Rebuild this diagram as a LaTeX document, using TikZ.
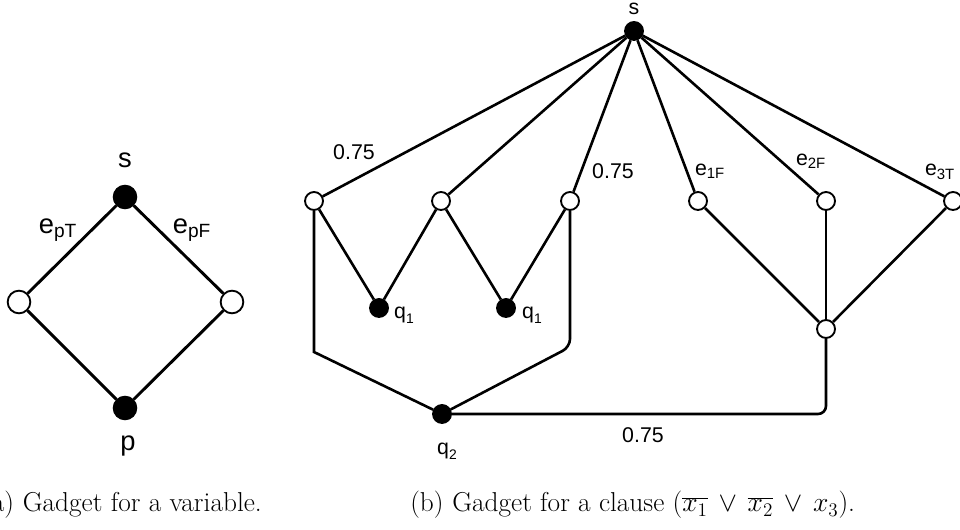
\documentclass[tikz,border=0pt]{standalone}
\usepackage{fontspec}
\newfontfamily\lab{Liberation Sans}
\newcommand{\lowsub}[1]{\raisebox{-0.45ex}{\fontsize{0.65em}{1em}\selectfont #1}}
\begin{document}
\begin{tikzpicture}[x=0.75pt,y=-0.75pt,
  vtx/.style={circle,draw=black,line width=1.4pt,inner sep=0pt},
  full/.style={vtx,fill=black},
  hollow/.style={vtx,fill=white},
  big/.style={minimum size=17pt},
  small/.style={minimum size=13.5pt},
  edge/.style={line width=2.2pt},
  thinedge/.style={line width=1.95pt},
  biglab/.style={font=\lab\fontsize{20.5}{24}\selectfont,inner sep=0pt},
  smalllab/.style={font=\lab\fontsize{16}{19}\selectfont,inner sep=0pt},
  caption/.style={font=\fontsize{20.5}{24}\selectfont,inner sep=0pt,anchor=base west}]
\useasboundingbox (0,0) rectangle (960,530);

% --- variable gadget ---
\node[full,big]   (vs) at (125,197) {};
\node[hollow,big] (vl) at (19,302) {};
\node[hollow,big] (vr) at (232,302) {};
\node[full,big]   (vp) at (125,408) {};
\draw[edge] (vs) -- (vl) -- (vp) -- (vr) -- (vs);
\node[biglab] (lvs) at (125,160) {s};
\node[biglab] (lpt) at (58,230) {e\textsubscript{pT}};
\node[biglab] (lpf) at (192,230) {e\textsubscript{pF}};
\node[biglab] (lvp) at (128,446) {p};

% --- clause gadget ---
\node[full,small]   (s)  at (634,31) {};
\node[hollow,small] (a)  at (314,201) {};
\node[hollow,small] (b)  at (441,201) {};
\node[hollow,small] (c)  at (570,201) {};
\node[hollow,small] (d)  at (698,201) {};
\node[hollow,small] (e)  at (826,201) {};
\node[hollow,small] (f)  at (953,201) {};
\node[full,small]   (q1a) at (379,308) {};
\node[full,small]   (q1b) at (506,308) {};
\node[full,small]   (q2) at (442,414) {};
\node[hollow,small] (g)  at (826,329) {};
\coordinate (ca) at (314,352);
\coordinate (cc) at (570,347);
\coordinate (cg) at (826,414);

\foreach \t in {a,b,c,d,e,f} \draw[thinedge] (s) -- (\t);
\draw[thinedge] (a) -- (q1a) -- (b) -- (q1b) -- (c);
\draw[thinedge] (a) -- (ca) -- (q2);
\draw[thinedge,rounded corners=6pt] (c) -- (cc) -- (q2);
\draw[thinedge,rounded corners=6pt] (q2) -- (cg) -- (g);
\draw[thinedge] (d) -- (g);
\draw[thinedge] (e) -- (g);
\draw[thinedge] (f) -- (g);

\node[smalllab] (ls)   at (634,9) {s};
\node[smalllab] (w1)   at (354,152) {0.75};
\node[smalllab] (w2)   at (613,171) {0.75};
\node[smalllab] (w3)   at (643,435) {0.75};
\node[smalllab] (l1f)  at (710,171) {e\textsubscript{1F}};
\node[smalllab] (l2f)  at (811,161) {e\textsubscript{2F}};
\node[smalllab] (l3t)  at (940,172) {e\textsubscript{3T}};
\node[smalllab] (lq1a) at (404,315) {q\lowsub{1}};
\node[smalllab] (lq1b) at (532,315) {q\lowsub{1}};
\node[smalllab] (lq2)  at (447,451) {q\lowsub{2}};

% --- captions ---
\node[caption] (capa) at (-18,512) {(a)\hspace{6.5pt}Gadget for a variable.};
\node[caption] (capb) at (410,512) {(b)\hspace{6.5pt}Gadget for a clause ($\overline{x_1}\,\vee\,\overline{x_2}\,\vee\,x_3$).};
\end{tikzpicture}
\end{document}
